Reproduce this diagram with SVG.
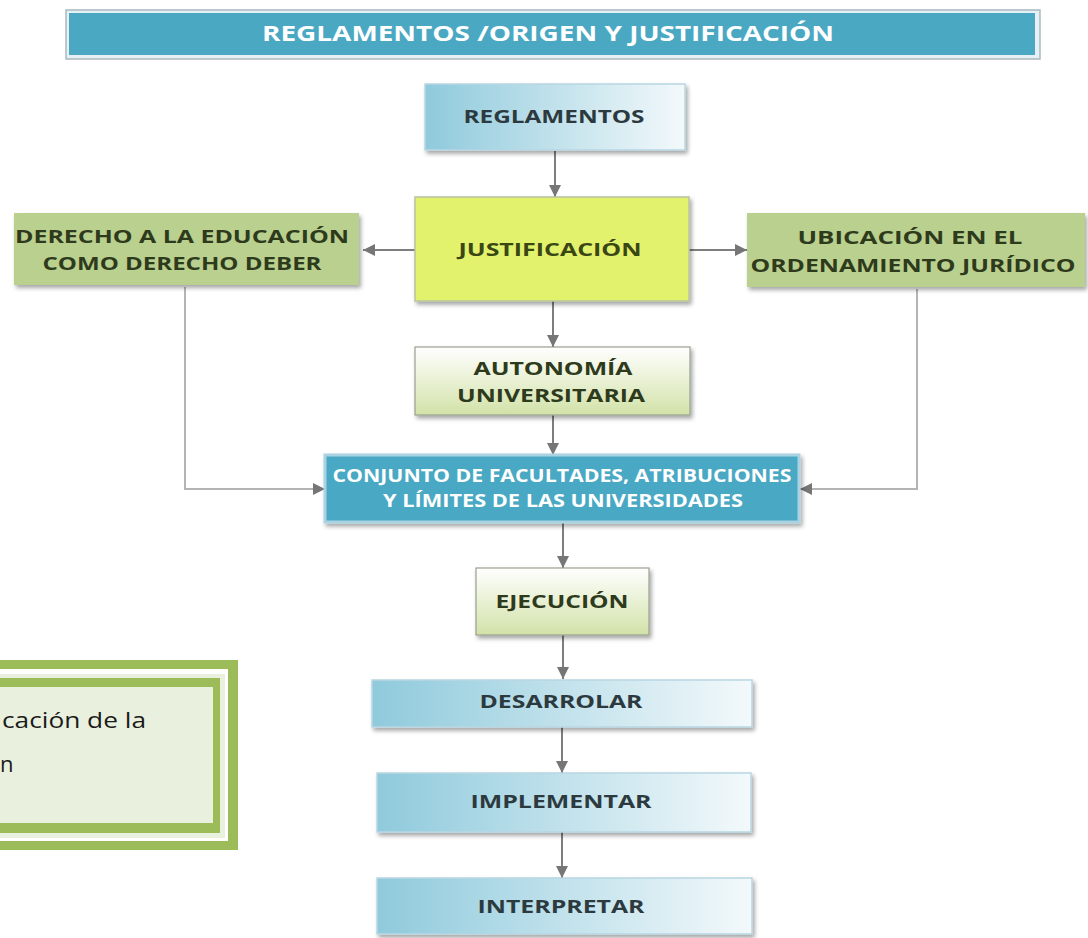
<svg xmlns="http://www.w3.org/2000/svg" width="1088" height="938" viewBox="0 0 1088 938">
<style>
.t{font-family:"Open Sans","Liberation Sans",sans-serif;font-weight:bold;text-anchor:middle}
.dk{fill:#2c3a40;font-size:18px}
.gr{fill:#2e3a1c;font-size:18px}
.wh{fill:#ffffff;font-size:18px}
.ln{fill:none;stroke:#7e7e7e;stroke-width:2}
.lt{fill:none;stroke:#b4b4b4;stroke-width:2}
.bl{stroke:#b9d6e2;stroke-width:1.5}
</style>
<defs>
<linearGradient id="gBlue" x1="0" y1="0" x2="1" y2="0">
<stop offset="0" stop-color="#8fcadc"/>
<stop offset="1" stop-color="#f3f9fb"/>
</linearGradient>
<linearGradient id="gGreenV" x1="0" y1="0" x2="0" y2="1">
<stop offset="0" stop-color="#ffffff"/>
<stop offset="1" stop-color="#d2e2a8"/>
</linearGradient>
<filter id="sh" x="-10%" y="-10%" width="130%" height="140%">
<feDropShadow dx="2" dy="3" stdDeviation="2" flood-color="#000" flood-opacity="0.35"/>
</filter>
<marker id="ah" viewBox="0 0 12 12" refX="12" refY="6" markerWidth="12" markerHeight="12" markerUnits="userSpaceOnUse" orient="auto">
<path d="M0,0 L12,6 L0,12 Z" fill="#767676"/>
</marker>
</defs>
<rect width="1088" height="938" fill="#ffffff"/>

<g id="title">
<rect x="66" y="10" width="974" height="49" fill="#e6f1f5" stroke="#a9b9c0" stroke-width="1.5"/>
<rect x="69" y="13" width="966" height="42" fill="#4aa8c3"/>
<text class="t" x="548" y="41" fill="#ffffff" font-size="21" textLength="572" lengthAdjust="spacingAndGlyphs">REGLAMENTOS /ORIGEN Y JUSTIFICACIÓN</text>
</g>

<g id="connectors">
<line class="ln" x1="555" y1="151" x2="555" y2="197" marker-end="url(#ah)"/>
<line class="ln" x1="415" y1="250" x2="363" y2="250" marker-end="url(#ah)"/>
<line class="ln" x1="689" y1="250" x2="747" y2="250" marker-end="url(#ah)"/>
<line class="ln" x1="553" y1="301" x2="553" y2="347" marker-end="url(#ah)"/>
<line class="ln" x1="553" y1="415" x2="553" y2="455" marker-end="url(#ah)"/>
<polyline class="lt" points="185,287 185,489 325,489" marker-end="url(#ah)"/>
<polyline class="lt" points="917,289 917,489 800,489" marker-end="url(#ah)"/>
<line class="ln" x1="563" y1="522" x2="563" y2="568" marker-end="url(#ah)"/>
<line class="ln" x1="563" y1="635" x2="563" y2="679" marker-end="url(#ah)"/>
<line class="ln" x1="562" y1="727" x2="562" y2="773" marker-end="url(#ah)"/>
<line class="ln" x1="562" y1="832" x2="562" y2="878" marker-end="url(#ah)"/>
</g>

<g id="reglamentos">
<rect x="425" y="84" width="260" height="66" fill="url(#gBlue)" class="bl" filter="url(#sh)"/>
<text class="t dk" x="554" y="123" textLength="181" lengthAdjust="spacingAndGlyphs">REGLAMENTOS</text>
</g>

<g id="justificacion">
<rect x="415" y="197" width="274" height="104" fill="#e3f26c" stroke="#b8c3a0" stroke-width="1.5" filter="url(#sh)"/>
<text class="t" x="550" y="256" fill="#3a4714" font-size="18" textLength="183" lengthAdjust="spacingAndGlyphs">JUSTIFICACIÓN</text>
</g>

<g id="derecho">
<rect x="14" y="213" width="345" height="72" fill="#bad08e" filter="url(#sh)"/>
<text class="t gr" x="182" y="243" textLength="334" lengthAdjust="spacingAndGlyphs">DERECHO A LA EDUCACIÓN</text>
<text class="t gr" x="182" y="270" textLength="279" lengthAdjust="spacingAndGlyphs">COMO DERECHO DEBER</text>
</g>

<g id="ubicacion">
<rect x="747" y="213" width="338" height="74" fill="#bad08e" filter="url(#sh)"/>
<text class="t gr" x="910" y="244" textLength="225" lengthAdjust="spacingAndGlyphs">UBICACIÓN EN EL</text>
<text class="t gr" x="913" y="272" textLength="325" lengthAdjust="spacingAndGlyphs">ORDENAMIENTO JURÍDICO</text>
</g>

<g id="autonomia">
<rect x="415" y="347" width="275" height="68" fill="url(#gGreenV)" stroke="#9aa090" stroke-width="1.2" filter="url(#sh)"/>
<text class="t gr" x="553" y="375" textLength="159" lengthAdjust="spacingAndGlyphs">AUTONOMÍA</text>
<text class="t gr" x="551" y="402" textLength="188" lengthAdjust="spacingAndGlyphs">UNIVERSITARIA</text>
</g>

<g id="conjunto">
<rect x="325" y="455" width="474" height="67" fill="#4aa8c3" stroke="#a9d3e2" stroke-width="3" filter="url(#sh)"/>
<text class="t wh" x="562" y="482" textLength="459" lengthAdjust="spacingAndGlyphs">CONJUNTO DE FACULTADES, ATRIBUCIONES</text>
<text class="t wh" x="563" y="507" textLength="360" lengthAdjust="spacingAndGlyphs">Y LÍMITES DE LAS UNIVERSIDADES</text>
</g>

<g id="ejecucion">
<rect x="476" y="568" width="173" height="67" fill="url(#gGreenV)" stroke="#9aa090" stroke-width="1.2" filter="url(#sh)"/>
<text class="t gr" x="562" y="608" textLength="133" lengthAdjust="spacingAndGlyphs">EJECUCIÓN</text>
</g>

<g id="desarrolar">
<rect x="372" y="680" width="380" height="47" fill="url(#gBlue)" class="bl" filter="url(#sh)"/>
<text class="t dk" x="561" y="708" textLength="163" lengthAdjust="spacingAndGlyphs">DESARROLAR</text>
</g>

<g id="implementar">
<rect x="377" y="773" width="374" height="59" fill="url(#gBlue)" class="bl" filter="url(#sh)"/>
<text class="t dk" x="561" y="808" textLength="181" lengthAdjust="spacingAndGlyphs">IMPLEMENTAR</text>
</g>

<g id="interpretar">
<rect x="377" y="878" width="375" height="56" fill="url(#gBlue)" class="bl" filter="url(#sh)"/>
<text class="t dk" x="561" y="913" textLength="167" lengthAdjust="spacingAndGlyphs">INTERPRETAR</text>
</g>

<g id="notebox">
<rect x="-10" y="660" width="248" height="190" fill="#9cbb59"/>
<rect x="-10" y="669" width="238" height="172" fill="#ffffff"/>
<rect x="-10" y="674" width="235" height="164" fill="#e9f0dd"/>
<rect x="-10" y="678" width="230" height="155" fill="#9cbb59"/>
<rect x="-10" y="687" width="223" height="136" fill="#e9f0dd"/>
<text x="2" y="728" font-family="'Open Sans','Noto Sans',sans-serif" font-size="22" fill="#1a1a1a" textLength="144" lengthAdjust="spacingAndGlyphs">cación de la</text>
<text x="0" y="772" font-family="'Open Sans','Noto Sans',sans-serif" font-size="22" fill="#1a1a1a">n</text>
</g>
</svg>
